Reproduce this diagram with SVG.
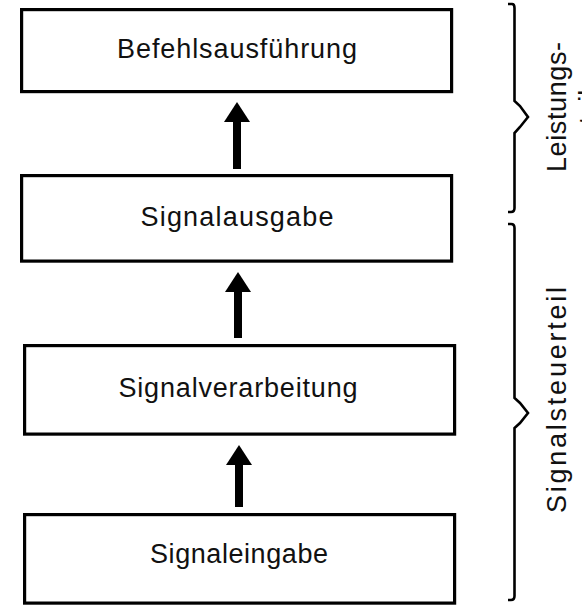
<svg xmlns="http://www.w3.org/2000/svg" width="582" height="605" viewBox="0 0 582 605">
<style>
.box{fill:#fff;stroke:#000;stroke-width:3.2}
.lbl{font-family:"Liberation Sans",Arial,sans-serif;font-size:27px;fill:#111;text-anchor:middle}
.conn{stroke:#000;stroke-width:8;fill:none}
.brace{stroke:#000;stroke-width:2.6;fill:none;stroke-linejoin:miter}
</style>
<defs>
<marker id="ah" viewBox="0 0 20 26" refX="0" refY="13" markerWidth="20" markerHeight="26" markerUnits="userSpaceOnUse" orient="auto">
<path d="M0,0 L20,13 L0,26 z" fill="#000"/>
</marker>
</defs>
<rect width="582" height="605" fill="#fff"/>
<g id="node-befehlsausfuehrung">
<rect class="box" x="21.6" y="9.6" width="430" height="82"/>
<text class="lbl" x="237" y="58" textLength="240" lengthAdjust="spacing">Befehlsausführung</text>
</g>
<g id="node-signalausgabe">
<rect class="box" x="21.6" y="175.6" width="430" height="85.5"/>
<text class="lbl" x="237" y="226" textLength="193" lengthAdjust="spacing">Signalausgabe</text>
</g>
<g id="node-signalverarbeitung">
<rect class="box" x="24.6" y="345.6" width="430" height="88.5"/>
<text class="lbl" x="238" y="397" textLength="239" lengthAdjust="spacing">Signalverarbeitung</text>
</g>
<g id="node-signaleingabe">
<rect class="box" x="24.6" y="514.6" width="430" height="88.5"/>
<text class="lbl" x="239" y="563" textLength="178" lengthAdjust="spacing">Signaleingabe</text>
</g>
<g id="connectors">
<line class="conn" x1="237" y1="169" x2="237" y2="122" marker-end="url(#ah)"/>
<line class="conn" x1="238" y1="338" x2="238" y2="292" marker-end="url(#ah)"/>
<line class="conn" x1="239" y1="507" x2="239" y2="465" marker-end="url(#ah)"/>
</g>
<g id="brace-leistungsteil">
<path class="brace" d="M508,4 L512,4 Q514.5,4 514.5,8 L514.5,101 L520,106 L528,117 L520,127 L514.5,133 L514.5,208 Q514.5,212 511,212 L508,212"/>
<text class="lbl" transform="translate(566,107) rotate(-90)"><tspan x="0" y="0" textLength="130" lengthAdjust="spacing">Leistungs-</tspan><tspan x="0" y="32">teil</tspan></text>
</g>
<g id="brace-signalsteuerteil">
<path class="brace" d="M508,224 L511,224 Q514.5,224 514.5,228 L514.5,398 L520,403 L528,413 L520,423 L514.5,428 L514.5,596 Q514.5,600 511,600 L508,600"/>
<text class="lbl" transform="translate(566,400) rotate(-90)" textLength="226" lengthAdjust="spacing">Signalsteuerteil</text>
</g>
</svg>
